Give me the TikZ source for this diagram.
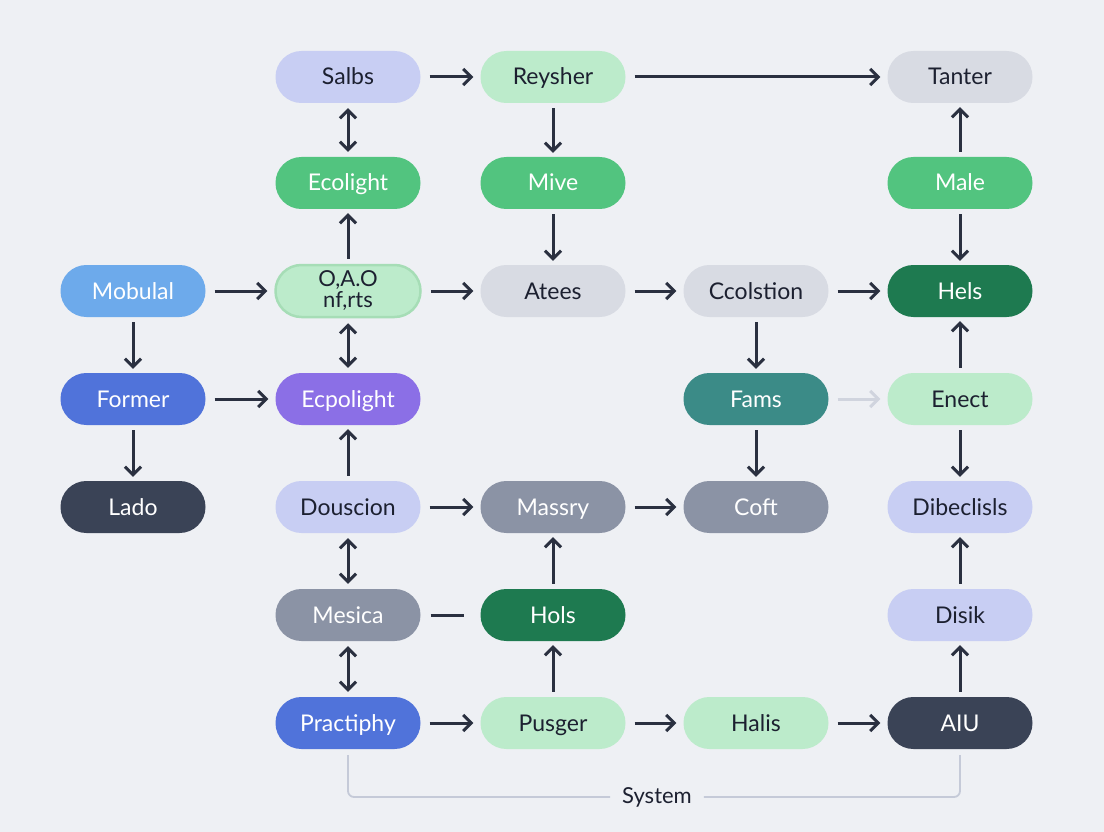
\documentclass[tikz,border=0pt]{standalone}
\usepackage{fontspec}
\setmainfont{Lato}
\usetikzlibrary{arrows.meta}
\definecolor{bgc}{HTML}{EEF0F4}
\definecolor{ink}{HTML}{2A3040}
\definecolor{txt}{HTML}{1C2030}
\definecolor{lav}{HTML}{C8CEF3}
\definecolor{lgreen}{HTML}{BCEBCB}
\definecolor{lgray}{HTML}{D8DBE3}
\definecolor{green}{HTML}{52C47F}
\definecolor{sky}{HTML}{6DAAEB}
\definecolor{dgreen}{HTML}{1E7A50}
\definecolor{blue}{HTML}{5073DA}
\definecolor{purple}{HTML}{8B6FE6}
\definecolor{teal}{HTML}{3B8B87}
\definecolor{slate}{HTML}{3A4356}
\definecolor{gray}{HTML}{8B93A5}
\definecolor{sysline}{HTML}{C5CAD8}
\definecolor{faint}{HTML}{D0D4DE}
\definecolor{oaoborder}{HTML}{A6DDB6}
\tikzset{
  basebox/.style={rounded corners=25.9pt, minimum width=145pt, minimum height=52pt, inner sep=0pt,
    font=\fontsize{23}{24}\selectfont, text=txt, align=center},
  box/.style={basebox, text height=16pt, text depth=0pt},
  lightbox/.style={box, fill=#1, text=txt},
  darkbox/.style={box, fill=#1, text=white},
  tipx/.tip={Straight Barb[length=8pt,width=16pt,line width=3pt]},
  harr/.style={-tipx, line width=3pt, draw=ink, shorten <=9pt, shorten >=7pt},
  varr/.style={-tipx, line width=3pt, draw=ink, shorten <=5pt, shorten >=4pt},
  vdbl/.style={tipx-tipx, line width=3pt, draw=ink, shorten <=5pt, shorten >=5pt},
}
\begin{document}
\begin{tikzpicture}[x=1pt,y=-1pt]
\fill[bgc] (0,0) rectangle (1104,832);
\useasboundingbox (0,0) rectangle (1104,832);
% row 1
\node[lightbox=lav] (salbs) at (348,77) {Salbs};
\node[lightbox=lgreen] (reysher) at (553,77) {Reysher};
\node[lightbox=lgray] (tanter) at (960,77) {Tanter};
% row 2
\node[darkbox=green] (ecolight) at (348,183) {Ecolight};
\node[darkbox=green] (mive) at (553,183) {Mive};
\node[darkbox=green] (male) at (960,183) {Male};
% row 3
\node[darkbox=sky] (mobulal) at (133,291) {Mobulal};
\node[basebox, fill=lgreen, draw=oaoborder, line width=2.5pt, font=\fontsize{22}{21}\selectfont] (oao) at (348,291) {O,A.O\\nf,rts};
\node[lightbox=lgray] (atees) at (553,291) {Atees};
\node[lightbox=lgray] (ccol) at (756,291) {Ccolstion};
\node[darkbox=dgreen] (hels) at (960,291) {Hels};
% row 4
\node[darkbox=blue] (former) at (133,399) {Former};
\node[darkbox=purple] (ecpo) at (348,399) {Ecpolight};
\node[darkbox=teal] (fams) at (756,399) {Fams};
\node[lightbox=lgreen] (enect) at (960,399) {Enect};
% row 5
\node[darkbox=slate] (lado) at (133,507) {Lado};
\node[lightbox=lav] (dous) at (348,507) {Douscion};
\node[darkbox=gray] (massry) at (553,507) {Massry};
\node[darkbox=gray] (coft) at (756,507) {Coft};
\node[lightbox=lav] (dibe) at (960,507) {Dibeclisls};
% row 6
\node[darkbox=gray] (mesica) at (348,615) {Mesica};
\node[darkbox=dgreen] (hols) at (553,615) {Hols};
\node[lightbox=lav] (disik) at (960,615) {Disik};
% row 7
\node[darkbox=blue] (pract) at (348,723) {Practiphy};
\node[lightbox=lgreen] (pusger) at (553,723) {Pusger};
\node[lightbox=lgreen] (halis) at (756,723) {Halis};
\node[darkbox=slate] (aiu) at (960,723) {AIU};
% system label
\node[font=\fontsize{22}{23}\selectfont, text=txt, inner sep=0pt] (sys) at (657,797) {System};
% horizontal arrows
\draw[harr] (salbs) -- (reysher);
\draw[harr] (reysher) -- (tanter);
\draw[harr] (mobulal) -- (oao);
\draw[harr] (oao) -- (atees);
\draw[harr] (atees) -- (ccol);
\draw[harr] (ccol) -- (hels);
\draw[harr] (former) -- (ecpo);
\draw[harr, draw=faint] (fams) -- (enect);
\draw[harr] (dous) -- (massry);
\draw[harr] (massry) -- (coft);
\draw[harr] (pract) -- (pusger);
\draw[harr] (pusger) -- (halis);
\draw[harr] (halis) -- (aiu);
\draw[line width=3pt, draw=ink, shorten <=10pt, shorten >=16pt] (mesica) -- (hols);
% vertical arrows
\draw[vdbl] (salbs) -- (ecolight);
\draw[varr] (reysher) -- (mive);
\draw[varr] (male) -- (tanter);
\draw[varr] (oao) -- (ecolight);
\draw[varr] (mive) -- (atees);
\draw[varr] (male) -- (hels);
\draw[varr] (mobulal) -- (former);
\draw[varr] (former) -- (lado);
\draw[vdbl] (oao) -- (ecpo);
\draw[varr] (ccol) -- (fams);
\draw[varr] (enect) -- (hels);
\draw[varr] (fams) -- (coft);
\draw[varr] (enect) -- (dibe);
\draw[varr] (dous) -- (ecpo);
\draw[vdbl] (dous) -- (mesica);
\draw[varr] (hols) -- (massry);
\draw[varr] (disik) -- (dibe);
\draw[vdbl] (mesica) -- (pract);
\draw[varr] (pusger) -- (hols);
\draw[varr] (aiu) -- (disik);
% system bracket
\draw[sysline, line width=1.8pt, rounded corners=6pt] ([yshift=-6pt]pract.south) |- ([xshift=-12pt]sys.west);
\draw[sysline, line width=1.8pt, rounded corners=6pt] ([xshift=12pt]sys.east) -| ([yshift=-6pt]aiu.south);
\end{tikzpicture}
\end{document}
